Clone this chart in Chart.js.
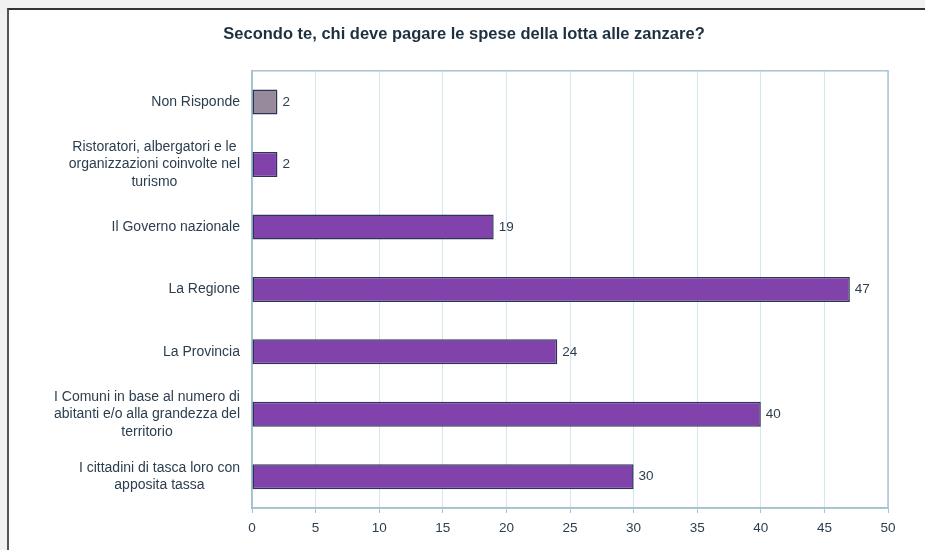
<!DOCTYPE html>
<html>
<head>
<meta charset="utf-8">
<script src="https://cdn.jsdelivr.net/npm/chart.js@4"></script>
<style>
  html, body { margin: 0; overflow: hidden; }
  body { background: #f1f1f1; width: 925px; height: 550px; position: relative; }
  #frame {
    position: absolute; left: 7px; top: 8px; width: 916px; height: 540px;
    background: #fff; border-left: 2px solid #555; border-top: 2px solid #333;
  }
  #wrap { width: 916px; height: 540px; }
</style>
</head>
<body>
<div id="frame"><div id="wrap"><canvas id="grafico"></canvas></div></div>
<script>
// Categorie (dall'alto verso il basso)
var categorie = [
    "Non Risponde",
    ["Ristoratori, albergatori e le", "organizzazioni coinvolte nel", "turismo"],
    "Il Governo nazionale",
    "La Regione",
    "La Provincia",
    ["I Comuni in base al numero di", "abitanti e/o alla grandezza del", "territorio"],
    ["I cittadini di tasca loro con", "apposita tassa"]
];
// Valori delle risposte
var valori = [2, 2, 19, 47, 24, 40, 30];
// Tick dell'asse x
var tickMin = 0;
var tickMax = 50;
var tickPasso = 5;

var titolo = "Secondo te, chi deve pagare le spese della lotta alle zanzare?";

var coloreTesto = "#2c3e4e";
var coloriBarre = valori.map(function(v, i) { return i === 0 ? "#978a9c" : "#8242ab"; });
var fontEtichette = "14px 'Liberation Sans', Arial, sans-serif";

// Scrive il valore alla fine di ogni barra
var etichetteValori = {
    id: "etichetteValori",
    afterDatasetsDraw: function(chart) {
        var ctx = chart.ctx;
        var meta = chart.getDatasetMeta(0);
        ctx.save();
        ctx.font = "13.5px 'Liberation Sans', Arial, sans-serif";
        ctx.fillStyle = coloreTesto;
        ctx.textAlign = "left";
        ctx.textBaseline = "middle";
        meta.data.forEach(function(bar, i) {
            ctx.fillText(String(chart.data.datasets[0].data[i]), bar.x + 5, bar.y);
        });
        ctx.restore();
    }
};

// Etichette delle categorie: blocco allineato a destra, righe centrate tra loro
var etichetteCategorie = {
    id: "etichetteCategorie",
    afterDraw: function(chart) {
        var ctx = chart.ctx;
        var scala = chart.scales.y;
        var destra = chart.chartArea.left - 12;
        var interlinea = 17.5;
        ctx.save();
        ctx.font = fontEtichette;
        ctx.fillStyle = coloreTesto;
        ctx.textAlign = "center";
        ctx.textBaseline = "middle";
        chart.data.labels.forEach(function(lab, i) {
            var righe = Array.isArray(lab) ? lab : [lab];
            var larg = 0;
            righe.forEach(function(r) { larg = Math.max(larg, ctx.measureText(r).width); });
            var cx = destra - larg / 2;
            var y0 = scala.getPixelForValue(i) - (righe.length - 1) * interlinea / 2;
            righe.forEach(function(r, k) { ctx.fillText(r, cx, y0 + k * interlinea); });
        });
        ctx.restore();
    }
};

// Bordo dell'area del grafico
var bordoArea = {
    id: "bordoArea",
    beforeDatasetsDraw: function(chart) {
        var a = chart.chartArea;
        var ctx = chart.ctx;
        ctx.save();
        ctx.strokeStyle = "#a9c4d2";
        ctx.lineWidth = 1.5;
        ctx.strokeRect(a.left, a.top, a.right - a.left, a.bottom - a.top);
        ctx.restore();
    }
};

Chart.defaults.font.family = "'Liberation Sans', Arial, sans-serif";
Chart.defaults.color = coloreTesto;

new Chart(document.getElementById("grafico"), {
    type: "bar",
    data: {
        labels: categorie,
        datasets: [{
            data: valori,
            backgroundColor: coloriBarre,
            borderColor: "#2b3656",
            borderWidth: 1.5,
            borderSkipped: false,
            barPercentage: 0.8,
            categoryPercentage: 0.5
        }]
    },
    options: {
        indexAxis: "y",
        responsive: true,
        maintainAspectRatio: false,
        animation: false,
        layout: { padding: { top: 15, left: 31, right: 37, bottom: 0 } },
        plugins: {
            legend: { display: false },
            tooltip: { enabled: false },
            title: {
                display: true,
                text: titolo,
                color: "#1c3040",
                font: { size: 16.5, weight: "bold" },
                padding: { top: 0, bottom: 26 }
            }
        },
        scales: {
            x: {
                min: tickMin,
                max: tickMax,
                ticks: { stepSize: tickPasso, font: { size: 13.5 }, padding: 7 },
                grid: { color: "#d4e6ee", tickLength: 5, tickColor: "#a9c4d2" },
                border: { color: "#8fb2c4", width: 1.5 },
                afterFit: function(scale) { scale.height = 42; }
            },
            y: {
                ticks: { display: false },
                grid: { display: false, drawOnChartArea: false },
                border: { color: "#8fb2c4", width: 1.5 },
                afterFit: function(scale) { scale.width = 212; }
            }
        }
    },
    plugins: [bordoArea, etichetteValori, etichetteCategorie]
});
</script>
</body>
</html>
